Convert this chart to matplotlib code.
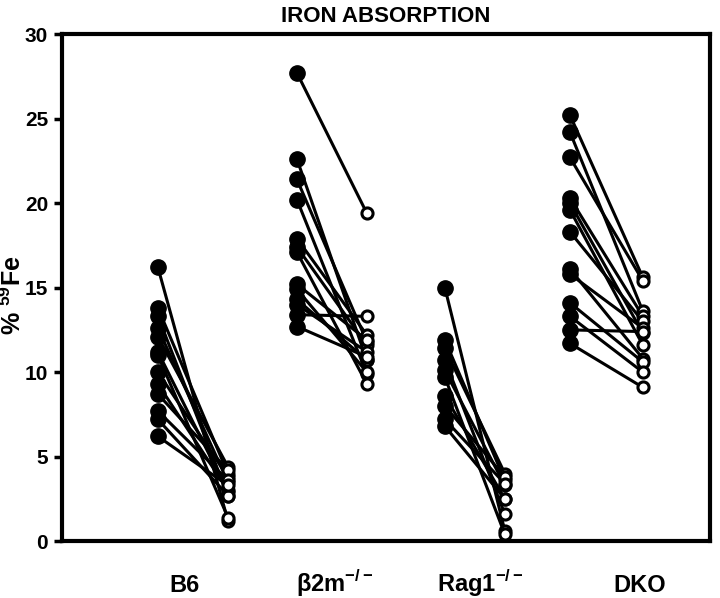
import matplotlib
matplotlib.use('Agg')
import matplotlib.pyplot as plt

plt.rcParams['font.family'] = ['Liberation Sans', 'DejaVu Sans']
plt.rcParams['mathtext.fontset'] = 'custom'
plt.rcParams['mathtext.rm'] = 'Liberation Sans:bold'
plt.rcParams['mathtext.bf'] = 'Liberation Sans:bold'

# group names and paired values (% 59Fe, first vs second measurement)
groups = ['B6', r'β2m$^{-/-}$', r'Rag1$^{-/-}$', 'DKO']

b6_pre = [16.2, 13.8, 13.3, 12.6, 12.1, 11.2, 11.0, 10.0, 9.3, 8.7, 7.7, 7.2, 6.2]
b6_post = [1.2, 4.0, 2.7, 3.5, 4.4, 2.9, 1.4, 3.8, 3.0, 4.2, 3.6, 2.7, 3.3]

b2m_pre = [27.7, 22.6, 21.4, 20.2, 17.9, 17.4, 17.1, 15.2, 14.9, 14.3, 14.0, 13.4, 12.7]
b2m_post = [19.4, 10.7, 11.8, 9.9, 12.2, 11.6, 9.3, 11.9, 10.0, 10.7, 11.2, 13.3, 10.9]

rag_pre = [15.0, 11.9, 11.4, 10.7, 10.1, 9.7, 8.6, 8.0, 7.2, 6.8]
rag_post = [0.6, 3.6, 4.0, 1.6, 3.3, 0.4, 2.5, 3.8, 3.4, 2.5]

dko_pre = [25.2, 24.2, 22.7, 20.3, 20.0, 19.6, 18.3, 16.1, 15.8, 14.1, 13.3, 12.5, 11.7]
dko_post = [15.6, 13.6, 15.4, 13.3, 12.3, 11.6, 13.0, 10.8, 12.6, 10.6, 10.0, 12.4, 9.1]

pre_x = [0.64, 1.567, 2.553, 3.387]
post_x = [1.107, 2.033, 2.953, 3.873]
label_x = [0.82, 1.82, 2.79, 3.85]

data = [(b6_pre, b6_post), (b2m_pre, b2m_post), (rag_pre, rag_post), (dko_pre, dko_post)]

fig = plt.figure(figsize=(7.2, 5.98), dpi=100)
ax = fig.add_axes([0.086, 0.095, 0.9, 0.848])

for i, (pre, post) in enumerate(data):
    for a, b in zip(pre, post):
        ax.plot([pre_x[i], post_x[i]], [a, b], color='k', lw=2.2, zorder=2)
    ax.plot([pre_x[i]] * len(pre), pre, 'o', ms=11, color='k', zorder=3)
    ax.plot([post_x[i]] * len(post), post, 'o', ms=8, mfc='white', mec='k', mew=2.2, zorder=4)

ax.set_xlim(0, 4.32)
ax.set_ylim(0, 30)
ax.set_yticks([0, 5, 10, 15, 20, 25, 30])
ax.set_xticks([])
ax.tick_params(axis='y', length=6, width=2.5, labelsize=15, pad=4)
for t in ax.get_yticklabels():
    t.set_fontweight('bold')
for s in ax.spines.values():
    s.set_linewidth(3)

# category labels under the axis
for x, name in zip(label_x, groups):
    ax.text(x, -3.0, name, ha='center', va='baseline', fontsize=17, fontweight='bold')

ax.set_ylabel(r'% $^{\mathbf{59}}$Fe', fontsize=18, fontweight='bold')
ax.yaxis.set_label_coords(-0.056, 0.485)
ax.set_title('IRON ABSORPTION', fontsize=16, fontweight='bold', pad=9)

fig.savefig('out.png', dpi=100)
